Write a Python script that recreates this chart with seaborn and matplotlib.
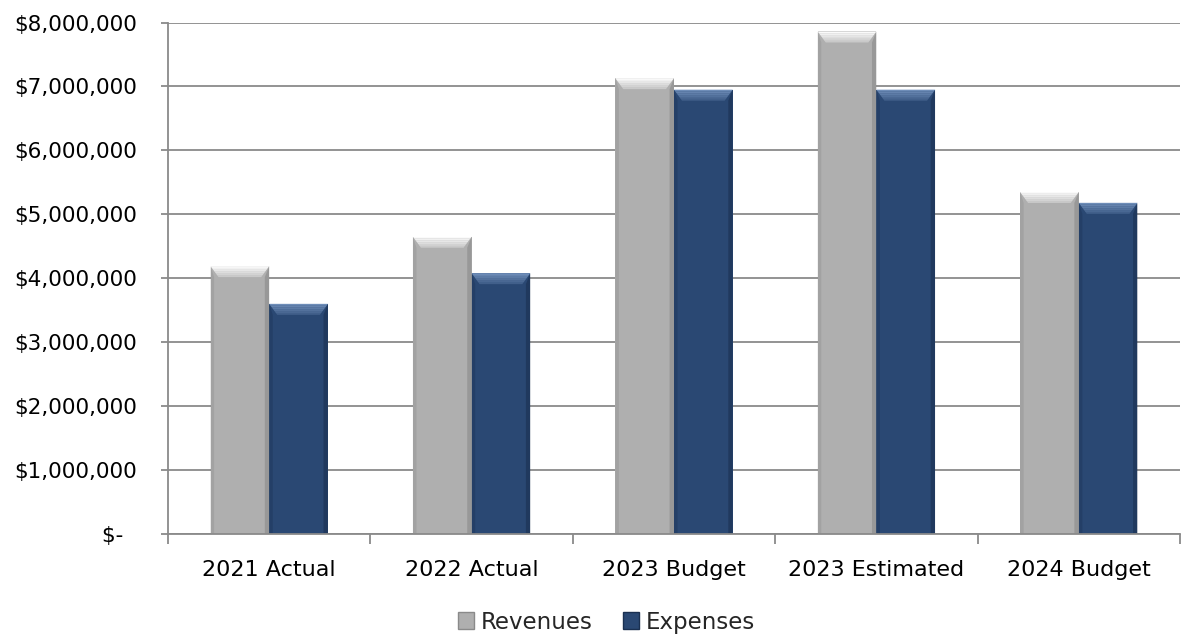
import matplotlib
matplotlib.use("Agg")
import matplotlib.pyplot as plt
from matplotlib.patches import Polygon
from matplotlib.ticker import FuncFormatter, FixedLocator
import seaborn as sns
import pandas as pd
import numpy as np

categories = ["2021 Actual", "2022 Actual", "2023 Budget", "2023 Estimated", "2024 Budget"]
revenues = [4190000, 4650000, 7130000, 7860000, 5350000]
expenses = [3600000, 4080000, 6950000, 6950000, 5180000]
series_names = ["Revenues", "Expenses"]

df = pd.DataFrame({
    "category": categories * 2,
    "series": [series_names[0]] * len(categories) + [series_names[1]] * len(categories),
    "value": revenues + expenses,
})

sns.set_theme(style="white")
plt.rcParams["font.family"] = ["DejaVu Sans"]

body = {"Revenues": "#AFAFAF", "Expenses": "#2A4873"}
light = {"Revenues": "#FFFFFF", "Expenses": "#7291BC"}
dark = {"Revenues": "#8A8A8A", "Expenses": "#1A3051"}

fig = plt.figure(figsize=(11.89, 6.36), dpi=100)
ax = fig.add_axes([0.1413, 0.1604, 0.8511, 0.8042])

sns.barplot(data=df, x="category", y="value", hue="series", palette=body,
            width=0.58, gap=0, saturation=1, ax=ax, zorder=3, linewidth=0,
            legend=True)

ax.set_xlim(-0.5, len(categories) - 0.5)
ax.set_ylim(0, 8000000)
ax.set_xlabel("")
ax.set_ylabel("")

# bevel effect derived from bar patches
ylim = ax.get_ylim()
px_per_unit = (ax.get_window_extent().height) / (ylim[1] - ylim[0])
xpx_per_unit = ax.get_window_extent().width / (ax.get_xlim()[1] - ax.get_xlim()[0])
band = 11 / px_per_unit
side = 8 / xpx_per_unit
bars = [p for p in ax.patches if p.get_height() > 0]
n = len(categories)
for i, p in enumerate(bars[: 2 * n]):
    s = series_names[i // n]
    x, w, h = p.get_x(), p.get_width(), p.get_height()
    # side edges
    ax.add_patch(Polygon([(x, 0), (x + side * 0.45, 0), (x + side * 0.45, h - band), (x, h)],
                         closed=True, facecolor=dark[s], alpha=0.35, lw=0, zorder=4))
    ax.add_patch(Polygon([(x + w, 0), (x + w - side * 0.55, 0), (x + w - side * 0.55, h - band), (x + w, h)],
                         closed=True, facecolor=dark[s], alpha=0.6, lw=0, zorder=4))
    # top bevel as gradient of separate trapezoid strips
    steps = 6
    for k in range(steps):
        f0 = k / steps
        f1 = (k + 1) / steps
        a = 0.95 - f0 * 0.75
        ax.add_patch(Polygon([(x + side * f0, h - band * f0), (x + w - side * f0, h - band * f0),
                              (x + w - side * f1, h - band * f1), (x + side * f1, h - band * f1)],
                             closed=True, facecolor=light[s], alpha=a, lw=0, zorder=4))

# grid & spines
ax.yaxis.set_major_locator(FixedLocator(np.arange(0, 8000001, 1000000)))
ax.yaxis.grid(True, color="#8A8A8A", linewidth=1.3, zorder=0)
ax.xaxis.grid(False)
for sp in ["top", "right"]:
    ax.spines[sp].set_visible(False)
for sp in ["left", "bottom"]:
    ax.spines[sp].set_color("#8A8A8A")
    ax.spines[sp].set_linewidth(1.3)
    ax.spines[sp].set_zorder(5)

ax.yaxis.set_major_formatter(FuncFormatter(lambda v, pos: "$-  " if v == 0 else f"${v:,.0f}"))
ax.tick_params(axis="y", which="major", left=True, length=5, width=1.3, color="#8A8A8A",
               labelsize=15.5, labelcolor="#000000", pad=17)
ax.set_xticks(np.arange(-0.5, len(categories), 1.0), minor=True)
ax.tick_params(axis="x", which="minor", bottom=True, length=7, width=1.3, color="#8A8A8A")
ax.tick_params(axis="x", which="major", bottom=False, labelsize=16, labelcolor="#000000", pad=13)

# legend
sns.move_legend(ax, "center", bbox_to_anchor=(0.51, 0.022), bbox_transform=fig.transFigure,
                ncol=2, frameon=False, title=None, fontsize=16.5,
                handlelength=0.7, handleheight=0.7, handletextpad=0.3, columnspacing=1.3)
leg = ax.get_legend()
for h, s in zip(leg.legend_handles, series_names):
    h.set_facecolor(body[s])
    h.set_edgecolor(dark[s])
    h.set_linewidth(1.0)

fig.savefig("out.png", dpi=100)
